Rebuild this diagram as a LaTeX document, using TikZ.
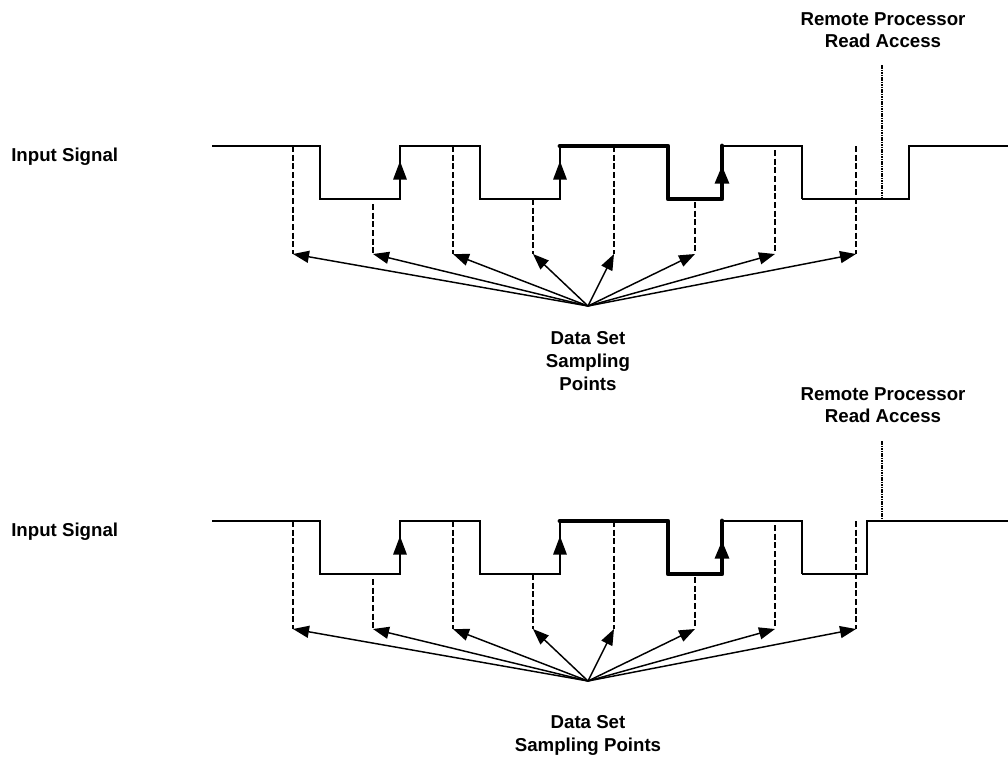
\documentclass[tikz,border=0pt]{standalone}
\usepackage{fontspec}
\setmainfont{Liberation Sans}
\usetikzlibrary{arrows.meta,positioning}
\tikzset{
  >=Triangle,
  % --- text
  lbl/.style    = {font=\fontsize{14}{17}\selectfont\bfseries, align=center, inner sep=0pt},
  % --- lines
  sig/.style    = {line width=1.7pt, line join=miter},
  sigbold/.style= {line width=3.6pt, line cap=round, line join=round},
  edgetip/.style= {-{Triangle[length=14pt,width=10pt]}, line width=1.7pt},
  samp/.style   = {line width=1.4pt, dash pattern=on 4.5pt off 2pt},
  fan/.style    = {-{Triangle[length=12pt,width=9pt]}, line width=1.1pt},
  rpa/.style    = {line width=2pt, dash pattern=on 1.2pt off 0.6pt},
}

\begin{document}
\begin{tikzpicture}[x=0.75pt,y=-0.75pt]
  \useasboundingbox (0,0) rectangle (1008,758);

  % both diagrams share the sampling part
  \foreach \dy/\p in {0/a,375/b} {
    \begin{scope}[yshift=-\dy*0.75pt]
      \node[lbl,anchor=west] (in\p) at (11,157) {Input Signal};

      \draw[sig] (212,146) -| (320,199) -| (400,146) -| (480,199) -| (560,146)
                 -| (668,199) -| (722,146) -- (802,146) -- (802,199);
      \draw[sigbold] (560,146) -- (668,146) -- (668,199) -- (722,199) -- (722,146);
      \draw[edgetip] (400,199) -- (400,161);
      \draw[edgetip] (560,199) -- (560,161);
      \draw[edgetip, line width=3.6pt] (722,199) -- (722,165);

      \coordinate (fp\p) at (588,306);
      \foreach \x/\ys [count=\k] in {293/146,373/204,453/146,533/199,
                                      614/146,695/202,775/150,856/146} {
        \coordinate (top\p\k) at (\x,\ys);
        \coordinate (smp\p\k) at (\x,254);
        \draw[samp] (top\p\k) -- (smp\p\k);
        \draw[fan] (fp\p) -- (smp\p\k);
      }

      \node[lbl] (rp\p) at (883,30) {Remote Processor\\Read Access};
    \end{scope}
  }

  % upper: read access while the signal is low
  \draw[sig] (802,199) -| (909,146) -- (1008,146);
  \coordinate (rpta) at (882,65);
  \coordinate (rpba) at (882,199);
  \draw[rpa] (rpta) -- (rpba);
  \node[lbl] (dsa) at (588,361) {Data Set\\Sampling\\Points};

  % lower: read access after the rising edge
  \draw[sig] (802,574) -| (867,521) -- (1008,521);
  \coordinate (rptb) at (882,441);
  \coordinate (rpbb) at (882,521);
  \draw[rpa] (rptb) -- (rpbb);
  \node[lbl] (dsb) at (588,735.5) {Data Set\\Sampling Points};
\end{tikzpicture}
\end{document}
